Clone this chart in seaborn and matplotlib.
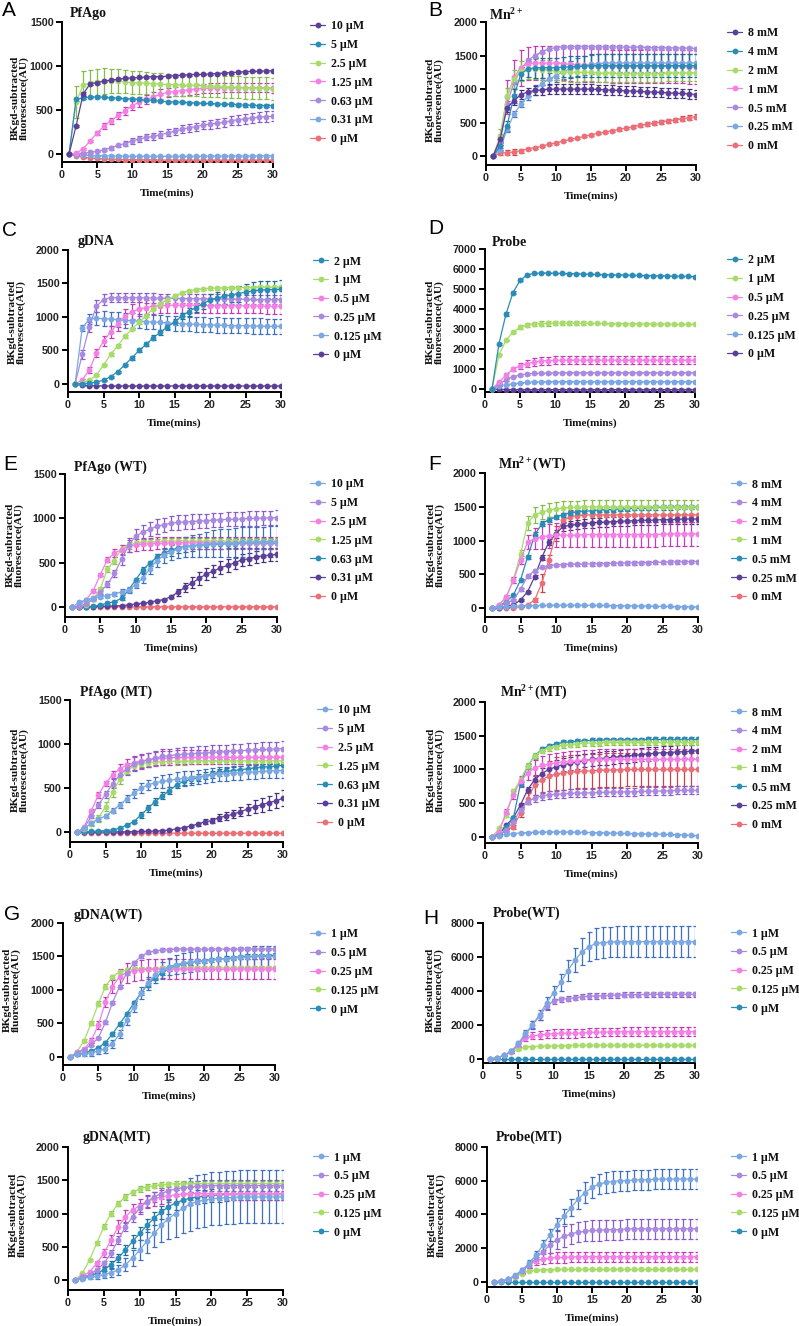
import numpy as np
import pandas as pd
import seaborn as sns
import matplotlib.pyplot as plt
from matplotlib.lines import Line2D

W, H = 799, 1326
TIME = list(range(1, 31))

# colours used by the GraphPad style palette (line colour, error bar colour)
PURPLE = ('#5b3f99', '#47307f')
TEAL = ('#2b8cb8', '#1d6d96')
GREEN = ('#a8dc6a', '#86bd4a')
PINK = ('#f47fe5', '#c23cb5')
LAVENDER = ('#a98ae0', '#8a5cc8')
LBLUE = ('#7ba7e3', '#3f6fbf')
RED = ('#ec6f78', '#cf3f4a')

# ---------------- A: PfAgo ----------------
A_LABELS = ['10 µM', '5 µM', '2.5 µM', '1.25 µM', '0.63 µM', '0.31 µM', '0 µM']
A_10 = [0, 320, 680, 800, 810, 830, 840, 850, 860, 865, 870, 875, 880, 880, 885, 890, 895, 900, 905, 905, 910, 915, 920, 925, 930, 935, 940, 940, 945, 945]
A_10_ERR = [0, 15, 20, 15, 15, 12, 10, 10, 10, 10, 10, 10, 10, 10, 10, 10, 10, 10, 10, 10, 10, 10, 10, 10, 10, 10, 10, 10, 10, 10]
A_5 = [0, 620, 640, 645, 650, 645, 640, 635, 630, 625, 620, 615, 610, 600, 595, 590, 590, 585, 580, 575, 575, 570, 565, 565, 560, 555, 555, 550, 550, 550]
A_5_ERR = [0, 20, 15, 10, 10, 10, 10, 10, 10, 10, 10, 10, 10, 10, 10, 10, 10, 10, 10, 10, 10, 10, 10, 15, 15, 15, 15, 15, 15, 15]
A_2P5 = [0, 590, 780, 810, 820, 830, 830, 830, 820, 810, 810, 805, 800, 795, 790, 790, 785, 780, 780, 775, 770, 770, 765, 760, 760, 755, 755, 750, 745, 740]
A_2P5_ERR = [0, 180, 160, 150, 150, 150, 140, 140, 130, 130, 130, 125, 125, 125, 125, 125, 125, 125, 125, 125, 125, 125, 125, 125, 125, 125, 125, 125, 125, 125]
A_1P25 = [0, 10, 60, 150, 240, 320, 380, 440, 490, 550, 590, 620, 650, 680, 700, 710, 720, 730, 740, 745, 750, 750, 755, 755, 755, 755, 755, 755, 755, 750]
A_1P25_ERR = [0, 5, 10, 15, 25, 30, 35, 40, 45, 50, 55, 55, 55, 55, 55, 55, 55, 55, 55, 55, 55, 55, 55, 55, 55, 55, 55, 55, 55, 55]
A_0P63 = [0, 5, 10, 20, 30, 50, 70, 100, 120, 150, 170, 190, 200, 220, 240, 260, 280, 300, 310, 330, 340, 350, 360, 380, 390, 400, 410, 420, 425, 430]
A_0P63_ERR = [0, 5, 5, 10, 10, 15, 20, 20, 25, 30, 30, 35, 35, 40, 40, 40, 45, 45, 45, 50, 50, 50, 55, 55, 55, 55, 55, 60, 60, 60]
A_0P31 = [0, -5, -10, -15, -18, -20, -22, -23, -24, -25, -25, -25, -25, -25, -25, -25, -25, -25, -25, -24, -24, -24, -23, -23, -22, -22, -21, -21, -20, -20]
A_0P31_ERR = [0, 5, 6, 7, 8, 8, 8, 8, 8, 8, 8, 8, 8, 8, 8, 8, 8, 8, 8, 8, 8, 8, 8, 8, 8, 8, 8, 8, 8, 8]
A_0 = [0, -20, -35, -45, -50, -55, -58, -60, -62, -63, -65, -65, -66, -67, -68, -68, -69, -70, -70, -70, -70, -70, -70, -70, -70, -70, -70, -70, -70, -70]
A_0_ERR = [0, 4, 5, 5, 5, 5, 5, 5, 5, 5, 5, 5, 5, 5, 5, 5, 5, 5, 5, 5, 5, 5, 5, 5, 5, 5, 5, 5, 5, 5]

# ---------------- B: Mn2+ ----------------
B_LABELS = ['8 mM', '4 mM', '2 mM', '1 mM', '0.5 mM', '0.25 mM', '0 mM']
B_8 = [0, 250, 720, 830, 920, 960, 980, 990, 1000, 1000, 1000, 1000, 1000, 1000, 1000, 995, 990, 985, 980, 975, 970, 965, 960, 955, 950, 945, 940, 935, 930, 920]
B_8_ERR = [0, 40, 60, 60, 60, 60, 70, 70, 70, 70, 70, 70, 70, 70, 70, 70, 70, 70, 70, 70, 70, 70, 70, 70, 70, 70, 70, 70, 70, 70]
B_4 = [0, 150, 450, 900, 1230, 1300, 1320, 1320, 1320, 1320, 1330, 1330, 1340, 1340, 1350, 1350, 1350, 1350, 1350, 1350, 1350, 1350, 1350, 1350, 1350, 1350, 1350, 1350, 1350, 1350]
B_4_ERR = [0, 50, 80, 100, 100, 120, 150, 150, 150, 150, 150, 160, 160, 160, 170, 170, 170, 170, 170, 170, 170, 170, 170, 170, 170, 170, 170, 170, 170, 170]
B_2 = [0, 300, 900, 1150, 1270, 1300, 1300, 1290, 1280, 1270, 1260, 1250, 1250, 1250, 1250, 1240, 1240, 1240, 1230, 1230, 1230, 1230, 1230, 1230, 1230, 1240, 1240, 1240, 1240, 1240]
B_2_ERR = [0, 100, 120, 140, 150, 150, 150, 150, 150, 140, 140, 140, 140, 130, 130, 130, 130, 130, 130, 130, 130, 130, 120, 120, 120, 120, 120, 120, 120, 120]
B_1 = [0, 250, 880, 1180, 1320, 1380, 1390, 1390, 1390, 1390, 1380, 1370, 1360, 1360, 1350, 1350, 1350, 1340, 1340, 1340, 1340, 1340, 1340, 1340, 1340, 1340, 1340, 1340, 1330, 1330]
B_1_ERR = [0, 80, 250, 250, 270, 250, 250, 250, 250, 250, 250, 250, 250, 250, 250, 250, 250, 250, 250, 250, 250, 250, 250, 250, 250, 250, 250, 250, 250, 250]
B_0P5 = [0, 200, 780, 1100, 1300, 1430, 1500, 1560, 1600, 1620, 1630, 1630, 1635, 1635, 1635, 1630, 1630, 1630, 1630, 1625, 1625, 1625, 1620, 1620, 1620, 1615, 1615, 1610, 1610, 1605]
B_0P5_ERR = [0, 30, 40, 30, 30, 25, 20, 20, 20, 20, 20, 20, 20, 20, 20, 20, 20, 20, 20, 20, 20, 20, 20, 20, 20, 20, 20, 20, 20, 20]
B_0P25 = [0, 100, 400, 630, 780, 900, 990, 1080, 1150, 1200, 1260, 1300, 1330, 1350, 1370, 1380, 1390, 1390, 1390, 1390, 1390, 1390, 1390, 1390, 1390, 1390, 1390, 1390, 1390, 1390]
B_0P25_ERR = [0, 30, 40, 50, 50, 60, 70, 80, 90, 100, 110, 120, 130, 140, 140, 140, 140, 140, 140, 140, 140, 140, 140, 140, 140, 140, 140, 140, 140, 140]
B_0 = [0, 45, 55, 65, 85, 110, 130, 150, 180, 200, 225, 250, 270, 295, 320, 340, 360, 380, 400, 420, 440, 460, 475, 490, 510, 525, 540, 560, 575, 590]
B_0_ERR = [0, 30, 40, 40, 30, 20, 15, 15, 15, 15, 15, 15, 15, 15, 15, 15, 15, 15, 20, 20, 20, 25, 30, 30, 30, 30, 35, 35, 40, 40]

# ---------------- C: gDNA ----------------
C_LABELS = ['2 µM', '1 µM', '0.5 µM', '0.25 µM', '0.125 µM', '0 µM']
C_2 = [0, 5, 10, 30, 55, 110, 185, 285, 390, 500, 590, 690, 770, 855, 920, 1015, 1080, 1140, 1200, 1250, 1280, 1310, 1330, 1350, 1370, 1390, 1400, 1410, 1410, 1415]
C_2_ERR = [0, 5, 5, 10, 10, 15, 15, 20, 25, 30, 30, 35, 40, 40, 45, 50, 60, 70, 80, 90, 100, 110, 110, 120, 120, 130, 130, 130, 130, 130]
C_1 = [0, 10, 55, 130, 285, 440, 570, 710, 820, 920, 1020, 1120, 1200, 1260, 1310, 1360, 1390, 1410, 1420, 1430, 1430, 1435, 1440, 1440, 1440, 1440, 1445, 1445, 1445, 1445]
C_1_ERR = [0, 5, 10, 15, 20, 20, 20, 20, 20, 20, 20, 20, 20, 20, 20, 20, 20, 20, 20, 20, 20, 20, 20, 20, 20, 20, 20, 20, 20, 20]
C_0P5 = [0, 60, 210, 460, 640, 780, 890, 1010, 1080, 1120, 1140, 1160, 1170, 1175, 1175, 1175, 1175, 1175, 1175, 1170, 1170, 1170, 1170, 1170, 1165, 1165, 1165, 1160, 1160, 1160]
C_0P5_ERR = [0, 15, 40, 60, 80, 90, 100, 110, 110, 110, 110, 110, 110, 110, 110, 110, 110, 110, 110, 110, 110, 110, 110, 110, 110, 110, 110, 110, 110, 110]
C_0P25 = [0, 440, 850, 1160, 1260, 1290, 1290, 1290, 1290, 1290, 1285, 1285, 1280, 1280, 1280, 1275, 1275, 1275, 1270, 1270, 1270, 1270, 1265, 1265, 1265, 1265, 1260, 1260, 1260, 1260]
C_0P25_ERR = [0, 60, 80, 90, 80, 70, 70, 70, 70, 70, 70, 70, 70, 70, 70, 70, 70, 70, 70, 70, 70, 70, 70, 70, 70, 70, 70, 70, 70, 70]
C_0P125 = [0, 835, 970, 980, 975, 970, 960, 950, 945, 940, 930, 925, 920, 910, 905, 900, 895, 890, 885, 880, 880, 875, 870, 870, 870, 865, 865, 860, 860, 860]
C_0P125_ERR = [0, 40, 80, 100, 110, 110, 110, 110, 110, 110, 110, 110, 110, 110, 110, 110, 110, 110, 110, 110, 115, 115, 115, 115, 115, 115, 115, 115, 115, 115]
C_0 = [0, -20, -25, -28, -30, -30, -30, -30, -30, -30, -30, -30, -30, -30, -30, -30, -30, -30, -30, -30, -30, -30, -30, -30, -30, -30, -30, -30, -30, -30]
C_0_ERR = [0, 5, 5, 5, 5, 5, 5, 5, 5, 5, 5, 5, 5, 5, 5, 5, 5, 5, 5, 5, 5, 5, 5, 5, 5, 5, 5, 5, 5, 5]

# ---------------- D: Probe ----------------
D_LABELS = ['2 µM', '1 µM', '0.5 µM', '0.25 µM', '0.125 µM', '0 µM']
D_2 = [0, 2270, 3750, 4820, 5430, 5700, 5780, 5800, 5800, 5790, 5780, 5770, 5760, 5750, 5740, 5730, 5720, 5710, 5700, 5700, 5690, 5680, 5670, 5660, 5660, 5650, 5640, 5640, 5630, 5620]
D_2_ERR = [0, 50, 120, 60, 50, 40, 30, 20, 20, 20, 20, 20, 20, 20, 20, 20, 20, 20, 20, 20, 20, 20, 20, 20, 20, 20, 20, 20, 20, 20]
D_1 = [0, 1720, 2430, 2850, 3080, 3180, 3250, 3270, 3280, 3290, 3290, 3290, 3290, 3290, 3280, 3280, 3280, 3270, 3270, 3270, 3260, 3260, 3260, 3250, 3250, 3250, 3240, 3240, 3240, 3230]
D_1_ERR = [0, 30, 40, 40, 100, 100, 110, 110, 110, 110, 110, 110, 110, 110, 30, 30, 30, 30, 30, 30, 30, 30, 30, 30, 30, 30, 30, 30, 30, 30]
D_0P5 = [0, 350, 700, 1000, 1150, 1270, 1350, 1400, 1420, 1430, 1440, 1440, 1440, 1440, 1440, 1440, 1440, 1440, 1440, 1440, 1440, 1440, 1440, 1440, 1440, 1440, 1440, 1440, 1440, 1440]
D_0P5_ERR = [0, 50, 80, 120, 150, 180, 200, 200, 200, 200, 200, 200, 200, 200, 200, 200, 200, 200, 200, 200, 200, 200, 200, 200, 200, 200, 200, 200, 200, 200]
D_0P25 = [0, 250, 450, 620, 700, 750, 780, 790, 800, 810, 810, 810, 810, 810, 810, 810, 810, 810, 810, 810, 810, 810, 810, 810, 810, 810, 810, 810, 810, 810]
D_0P25_ERR = [0, 20, 30, 30, 30, 30, 30, 30, 30, 30, 30, 30, 30, 30, 30, 30, 30, 30, 30, 30, 30, 30, 30, 30, 30, 30, 30, 30, 30, 30]
D_0P125 = [0, 150, 220, 260, 300, 330, 350, 360, 365, 370, 370, 370, 370, 370, 370, 370, 370, 370, 370, 370, 370, 370, 370, 370, 370, 370, 370, 370, 370, 370]
D_0P125_ERR = [0, 15, 20, 20, 20, 20, 20, 20, 20, 20, 20, 20, 20, 20, 20, 20, 20, 20, 20, 20, 20, 20, 20, 20, 20, 20, 20, 20, 20, 20]
D_0 = [0, -20, -25, -30, -30, -30, -30, -30, -30, -30, -30, -30, -30, -30, -30, -30, -30, -30, -30, -30, -30, -30, -30, -30, -30, -30, -30, -30, -30, -30]
D_0_ERR = [0, 10, 10, 10, 10, 10, 10, 10, 10, 10, 10, 10, 10, 10, 10, 10, 10, 10, 10, 10, 10, 10, 10, 10, 10, 10, 10, 10, 10, 10]

# ---------------- E: PfAgo (WT) ----------------
E_LABELS = ['10 µM', '5 µM', '2.5 µM', '1.25 µM', '0.63 µM', '0.31 µM', '0 µM']
E_10 = [0, 56, 83, 105, 120, 131, 150, 170, 195, 255, 327, 432, 526, 583, 620, 658, 680, 690, 700, 710, 715, 720, 720, 725, 730, 730, 735, 735, 740, 740]
E_10_ERR = [0, 10, 15, 15, 15, 20, 25, 30, 35, 40, 50, 60, 70, 80, 90, 100, 110, 120, 130, 140, 150, 160, 160, 170, 170, 170, 170, 170, 170, 170]
E_5 = [0, 10, 40, 90, 170, 260, 380, 540, 700, 800, 845, 880, 910, 930, 945, 955, 960, 965, 970, 975, 980, 985, 990, 990, 995, 1000, 1000, 1005, 1005, 1010]
E_5_ERR = [0, 5, 10, 15, 20, 30, 40, 60, 80, 80, 80, 80, 80, 80, 80, 80, 80, 80, 80, 80, 80, 80, 80, 80, 80, 80, 80, 80, 80, 80]
E_2P5 = [0, 19, 83, 188, 368, 537, 610, 646, 688, 700, 710, 715, 720, 720, 725, 725, 725, 725, 725, 725, 725, 725, 725, 725, 725, 725, 725, 725, 725, 725]
E_2P5_ERR = [0, 5, 10, 15, 20, 30, 50, 60, 70, 70, 70, 70, 70, 70, 70, 70, 70, 70, 70, 70, 70, 70, 70, 70, 70, 70, 70, 70, 70, 70]
E_1P25 = [0, 10, 26, 94, 207, 432, 526, 658, 700, 720, 730, 735, 740, 745, 745, 745, 745, 745, 745, 745, 745, 745, 745, 745, 745, 745, 745, 745, 745, 745]
E_1P25_ERR = [0, 5, 10, 15, 20, 30, 40, 40, 40, 30, 30, 30, 30, 30, 30, 30, 30, 30, 30, 30, 30, 30, 30, 30, 30, 30, 30, 30, 30, 30]
E_0P63 = [0, 0, 5, 11, 26, 45, 64, 100, 195, 308, 420, 496, 564, 610, 640, 670, 684, 690, 700, 705, 710, 710, 715, 715, 720, 720, 720, 720, 720, 720]
E_0P63_ERR = [0, 5, 5, 5, 5, 10, 10, 15, 20, 25, 30, 30, 40, 50, 60, 60, 60, 60, 50, 50, 50, 50, 50, 50, 50, 50, 50, 50, 50, 50]
E_0P31 = [0, 0, 5, 8, 10, 12, 15, 18, 26, 38, 45, 56, 75, 86, 120, 170, 225, 275, 325, 375, 405, 445, 470, 500, 534, 545, 564, 580, 586, 594]
E_0P31_ERR = [0, 2, 2, 2, 2, 2, 2, 2, 3, 3, 5, 5, 5, 10, 20, 40, 50, 60, 70, 70, 70, 70, 70, 70, 70, 70, 70, 70, 70, 70]
E_0 = [0, 5, 5, 5, 5, 5, 5, 5, 5, 5, 5, 5, 5, 5, 5, 5, 5, 5, 5, 5, 5, 5, 5, 5, 5, 5, 5, 5, 5, 5]
E_0_ERR = [0, 3, 3, 3, 3, 3, 3, 3, 3, 3, 3, 3, 3, 3, 3, 3, 3, 3, 3, 3, 3, 3, 3, 3, 3, 3, 3, 3, 3, 3]

# ---------------- E: PfAgo (MT) ----------------
EM_10 = [0, 45, 102, 148, 186, 246, 311, 379, 443, 500, 538, 564, 576, 590, 600, 610, 620, 630, 640, 650, 660, 665, 670, 675, 680, 685, 690, 695, 700, 700]
EM_10_ERR = [0, 10, 20, 25, 25, 30, 35, 40, 50, 55, 60, 65, 70, 75, 80, 80, 80, 80, 80, 80, 80, 80, 80, 80, 80, 80, 80, 80, 80, 80]
EM_5 = [0, 50, 180, 310, 430, 550, 650, 720, 770, 800, 820, 840, 860, 870, 880, 885, 890, 895, 900, 905, 910, 915, 920, 925, 930, 935, 940, 940, 945, 950]
EM_5_ERR = [0, 10, 20, 30, 40, 50, 60, 70, 80, 80, 80, 80, 80, 80, 80, 80, 80, 80, 80, 80, 80, 80, 80, 80, 80, 80, 80, 80, 80, 80]
EM_2P5 = [0, 64, 246, 424, 556, 650, 720, 760, 790, 810, 820, 830, 840, 845, 850, 850, 850, 850, 850, 850, 850, 850, 850, 850, 850, 850, 850, 850, 850, 850]
EM_2P5_ERR = [0, 10, 20, 30, 30, 40, 60, 70, 80, 80, 80, 80, 80, 80, 80, 80, 80, 80, 80, 80, 80, 80, 80, 80, 80, 80, 80, 80, 80, 80]
EM_1P25 = [0, 40, 100, 160, 290, 455, 600, 700, 750, 780, 790, 800, 800, 805, 805, 805, 810, 810, 810, 810, 810, 810, 810, 810, 810, 810, 810, 810, 810, 810]
EM_1P25_ERR = [0, 10, 30, 40, 50, 60, 50, 40, 40, 40, 40, 40, 40, 40, 40, 40, 40, 40, 40, 40, 40, 40, 40, 40, 40, 40, 40, 40, 40, 40]
EM_0P63 = [0, 5, 10, 15, 20, 30, 45, 83, 121, 197, 273, 348, 413, 470, 538, 576, 600, 620, 640, 660, 680, 690, 700, 710, 720, 730, 740, 745, 750, 760]
EM_0P63_ERR = [0, 2, 3, 5, 5, 5, 8, 10, 20, 30, 40, 40, 40, 40, 40, 40, 40, 40, 40, 40, 40, 40, 40, 40, 40, 40, 40, 40, 40, 40]
EM_0P31 = [0, 0, 2, 3, 4, 5, 5, 6, 8, 10, 12, 15, 18, 26, 38, 53, 72, 91, 121, 132, 167, 185, 205, 235, 261, 292, 311, 337, 356, 386]
EM_0P31_ERR = [0, 1, 1, 1, 1, 1, 1, 1, 2, 2, 3, 3, 5, 5, 8, 10, 10, 15, 25, 30, 35, 40, 45, 50, 60, 70, 80, 80, 85, 90]
EM_0 = [0, -5, -8, -10, -10, -10, -10, -10, -10, -10, -10, -10, -10, -10, -10, -10, -10, -10, -10, -10, -10, -10, -10, -10, -10, -10, -10, -10, -10, -10]
EM_0_ERR = [0, 3, 3, 3, 3, 3, 3, 3, 3, 3, 3, 3, 3, 3, 3, 3, 3, 3, 3, 3, 3, 3, 3, 3, 3, 3, 3, 3, 3, 3]

# ---------------- F: Mn2+ (WT) ----------------
F_LABELS = ['8 mM', '4 mM', '2 mM', '1 mM', '0.5 mM', '0.25 mM', '0 mM']
F_8 = [0, 15, 25, 30, 35, 38, 40, 42, 45, 45, 45, 45, 45, 45, 45, 43, 42, 40, 38, 36, 35, 33, 32, 30, 28, 26, 25, 22, 20, 18]
F_8_ERR = [0, 5, 5, 5, 5, 5, 5, 5, 5, 5, 5, 5, 5, 5, 5, 5, 5, 5, 5, 5, 5, 5, 5, 5, 5, 5, 5, 5, 5, 5]
F_4 = [0, 20, 73, 122, 280, 475, 554, 613, 627, 640, 645, 650, 650, 655, 655, 660, 660, 665, 665, 670, 670, 675, 675, 680, 680, 685, 685, 690, 690, 690]
F_4_ERR = [0, 5, 10, 15, 20, 25, 20, 15, 15, 20, 20, 20, 25, 25, 25, 25, 25, 25, 25, 25, 25, 25, 25, 25, 25, 25, 25, 25, 25, 25]
F_2 = [0, 50, 172, 416, 710, 980, 1030, 1060, 1070, 1080, 1080, 1080, 1080, 1090, 1090, 1090, 1090, 1090, 1090, 1090, 1090, 1090, 1090, 1090, 1095, 1100, 1100, 1100, 1100, 1100]
F_2_ERR = [0, 10, 20, 40, 60, 100, 150, 180, 180, 180, 180, 180, 180, 180, 180, 180, 180, 180, 180, 180, 180, 180, 180, 180, 180, 180, 180, 180, 180, 180]
F_1 = [0, 50, 170, 420, 800, 1260, 1380, 1420, 1450, 1470, 1480, 1490, 1490, 1500, 1500, 1500, 1500, 1500, 1500, 1500, 1500, 1500, 1500, 1500, 1500, 1500, 1500, 1500, 1500, 1500]
F_1_ERR = [0, 10, 20, 40, 60, 100, 120, 100, 100, 100, 100, 100, 100, 100, 100, 100, 100, 100, 100, 100, 100, 100, 100, 100, 100, 100, 100, 100, 100, 100]
F_0P5 = [0, 30, 98, 196, 416, 760, 1080, 1250, 1310, 1350, 1385, 1410, 1425, 1435, 1440, 1450, 1460, 1460, 1470, 1470, 1480, 1480, 1480, 1490, 1490, 1490, 1500, 1500, 1500, 1500]
F_0P5_ERR = [0, 5, 10, 15, 20, 30, 40, 40, 40, 30, 30, 30, 30, 30, 30, 30, 30, 30, 30, 30, 30, 30, 30, 30, 30, 30, 30, 30, 30, 30]
F_0P25 = [0, 10, 25, 50, 122, 245, 466, 750, 980, 1100, 1210, 1225, 1240, 1250, 1260, 1270, 1275, 1280, 1285, 1290, 1295, 1300, 1300, 1305, 1310, 1310, 1315, 1320, 1320, 1320]
F_0P25_ERR = [0, 3, 5, 10, 10, 15, 20, 40, 50, 60, 70, 70, 70, 70, 70, 70, 70, 70, 70, 70, 70, 70, 70, 70, 70, 70, 70, 70, 70, 70]
F_0 = [0, 0, 5, 10, 20, 50, 122, 370, 720, 1100, 1300, 1350, 1370, 1380, 1380, 1380, 1380, 1380, 1380, 1380, 1380, 1380, 1380, 1380, 1380, 1380, 1380, 1380, 1380, 1380]
F_0_ERR = [0, 2, 2, 3, 5, 10, 30, 130, 60, 110, 110, 110, 110, 110, 110, 110, 110, 110, 110, 110, 110, 110, 110, 110, 110, 110, 110, 110, 110, 110]

# ---------------- F: Mn2+ (MT) ----------------
FM_8 = [0, 20, 40, 50, 60, 65, 70, 72, 75, 75, 75, 72, 70, 68, 65, 62, 60, 58, 55, 52, 50, 48, 45, 42, 40, 38, 35, 30, 25, 20]
FM_8_ERR = [0, 5, 5, 5, 5, 5, 5, 5, 5, 5, 5, 5, 5, 5, 5, 5, 5, 5, 5, 5, 5, 5, 5, 5, 5, 5, 5, 5, 5, 5]
FM_4 = [0, 30, 100, 225, 400, 525, 575, 610, 625, 630, 640, 645, 650, 650, 655, 660, 660, 665, 665, 670, 670, 675, 675, 680, 680, 685, 690, 690, 690, 690]
FM_4_ERR = [0, 10, 15, 20, 30, 40, 50, 60, 60, 60, 60, 60, 60, 60, 60, 60, 60, 60, 60, 60, 60, 60, 60, 60, 60, 60, 60, 60, 60, 60]
FM_2 = [0, 80, 375, 625, 825, 950, 1020, 1060, 1080, 1100, 1110, 1120, 1130, 1140, 1140, 1150, 1150, 1150, 1150, 1150, 1150, 1150, 1150, 1150, 1150, 1150, 1150, 1150, 1150, 1150]
FM_2_ERR = [0, 20, 40, 60, 80, 100, 120, 140, 150, 150, 150, 150, 150, 150, 150, 150, 150, 150, 150, 150, 150, 150, 150, 150, 150, 150, 150, 150, 150, 150]
FM_1 = [0, 130, 325, 675, 850, 1050, 1200, 1280, 1320, 1340, 1360, 1370, 1380, 1390, 1390, 1390, 1400, 1400, 1400, 1400, 1400, 1400, 1400, 1400, 1400, 1400, 1400, 1400, 1400, 1400]
FM_1_ERR = [0, 20, 30, 40, 40, 40, 40, 40, 40, 40, 40, 40, 40, 40, 40, 40, 40, 40, 40, 40, 40, 40, 40, 40, 40, 40, 40, 40, 40, 40]
FM_0P5 = [0, 60, 140, 280, 790, 1050, 1200, 1300, 1350, 1380, 1400, 1410, 1420, 1425, 1430, 1435, 1440, 1440, 1440, 1440, 1440, 1440, 1445, 1445, 1445, 1445, 1445, 1445, 1445, 1445]
FM_0P5_ERR = [0, 10, 20, 30, 30, 30, 30, 30, 30, 30, 30, 30, 30, 30, 30, 30, 30, 30, 30, 30, 30, 30, 30, 30, 30, 30, 30, 30, 30, 30]
FM_0P25 = [0, 50, 175, 285, 475, 700, 850, 940, 1000, 1040, 1070, 1090, 1110, 1130, 1150, 1160, 1170, 1180, 1190, 1200, 1210, 1220, 1230, 1240, 1250, 1250, 1260, 1265, 1270, 1280]
FM_0P25_ERR = [0, 10, 20, 30, 30, 40, 60, 80, 100, 100, 100, 100, 100, 100, 100, 100, 100, 100, 100, 100, 100, 100, 100, 100, 100, 100, 100, 100, 100, 100]
FM_0 = [0, 30, 100, 150, 350, 565, 775, 850, 900, 930, 950, 960, 970, 975, 980, 985, 990, 990, 995, 1000, 1000, 1000, 1000, 1000, 1000, 1000, 1000, 1000, 1000, 1000]
FM_0_ERR = [0, 10, 20, 30, 60, 80, 150, 200, 220, 250, 250, 250, 250, 250, 250, 250, 250, 250, 250, 250, 250, 250, 250, 250, 250, 250, 250, 250, 250, 250]

# ---------------- G: gDNA (WT) ----------------
G_LABELS = ['1 µM', '0.5 µM', '0.25 µM', '0.125 µM', '0 µM']
G_1 = [0, 40, 50, 60, 90, 120, 200, 340, 550, 750, 950, 1100, 1220, 1300, 1350, 1380, 1400, 1420, 1430, 1440, 1450, 1460, 1470, 1480, 1490, 1490, 1500, 1500, 1500, 1500]
G_1_ERR = [0, 20, 30, 40, 50, 60, 60, 60, 70, 80, 90, 100, 110, 120, 130, 140, 150, 150, 150, 150, 150, 150, 150, 150, 150, 150, 150, 150, 150, 150]
G_0P5 = [0, 60, 110, 185, 285, 515, 810, 1050, 1250, 1400, 1500, 1560, 1580, 1600, 1600, 1610, 1610, 1610, 1610, 1610, 1610, 1610, 1610, 1610, 1610, 1610, 1610, 1610, 1610, 1610]
G_0P5_ERR = [0, 10, 15, 20, 20, 20, 20, 20, 20, 20, 20, 20, 20, 20, 20, 20, 20, 20, 20, 20, 20, 20, 20, 20, 20, 20, 20, 20, 20, 20]
G_0P25 = [0, 70, 120, 245, 475, 820, 1050, 1200, 1260, 1290, 1300, 1310, 1310, 1310, 1310, 1310, 1310, 1310, 1310, 1310, 1310, 1310, 1310, 1310, 1310, 1310, 1310, 1310, 1310, 1310]
G_0P25_ERR = [0, 10, 20, 40, 60, 80, 100, 120, 150, 150, 150, 150, 150, 150, 150, 150, 150, 150, 150, 150, 150, 150, 150, 150, 150, 150, 150, 150, 150, 150]
G_0P125 = [0, 80, 245, 510, 795, 1050, 1200, 1270, 1300, 1310, 1320, 1320, 1320, 1325, 1325, 1325, 1330, 1330, 1330, 1330, 1330, 1330, 1330, 1330, 1330, 1330, 1330, 1330, 1330, 1330]
G_0P125_ERR = [0, 10, 20, 30, 40, 40, 30, 30, 30, 30, 30, 30, 30, 30, 30, 30, 30, 30, 30, 30, 30, 30, 30, 30, 30, 30, 30, 30, 30, 30]
G_0 = [0, 40, 60, 90, 140, 215, 345, 490, 640, 800, 950, 1080, 1180, 1260, 1320, 1360, 1390, 1410, 1430, 1440, 1450, 1460, 1470, 1480, 1490, 1500, 1500, 1510, 1510, 1520]
G_0_ERR = [0, 10, 15, 20, 20, 20, 25, 30, 30, 30, 30, 30, 30, 30, 30, 30, 30, 30, 30, 30, 30, 30, 30, 30, 30, 30, 30, 30, 30, 30]

# ---------------- G: gDNA (MT) ----------------
GM_1 = [0, 20, 40, 60, 80, 110, 150, 230, 330, 450, 580, 700, 820, 920, 1000, 1080, 1140, 1180, 1200, 1220, 1230, 1240, 1240, 1250, 1250, 1250, 1250, 1250, 1250, 1250]
GM_1_ERR = [0, 20, 30, 40, 50, 60, 80, 100, 120, 150, 180, 200, 250, 300, 350, 380, 400, 400, 400, 400, 400, 400, 400, 400, 400, 400, 400, 400, 400, 400]
GM_0P5 = [0, 40, 80, 150, 250, 400, 600, 800, 950, 1080, 1180, 1250, 1300, 1340, 1370, 1390, 1400, 1410, 1420, 1420, 1420, 1420, 1420, 1420, 1420, 1420, 1420, 1420, 1420, 1420]
GM_0P5_ERR = [0, 10, 20, 30, 40, 50, 60, 70, 80, 80, 80, 80, 80, 80, 80, 80, 80, 80, 80, 80, 80, 80, 80, 80, 80, 80, 80, 80, 80, 80]
GM_0P25 = [0, 60, 120, 250, 400, 600, 800, 950, 1050, 1120, 1180, 1220, 1250, 1270, 1280, 1290, 1300, 1300, 1300, 1300, 1300, 1300, 1300, 1300, 1300, 1300, 1300, 1300, 1300, 1300]
GM_0P25_ERR = [0, 10, 20, 40, 60, 80, 100, 100, 100, 100, 100, 100, 100, 100, 100, 100, 100, 100, 100, 100, 100, 100, 100, 100, 100, 100, 100, 100, 100, 100]
GM_0P125 = [0, 100, 300, 550, 800, 1000, 1150, 1250, 1320, 1370, 1400, 1420, 1430, 1440, 1450, 1450, 1450, 1450, 1450, 1450, 1450, 1450, 1450, 1450, 1450, 1450, 1450, 1450, 1450, 1450]
GM_0P125_ERR = [0, 10, 20, 30, 40, 40, 40, 40, 40, 40, 40, 40, 40, 40, 40, 40, 40, 40, 40, 40, 40, 40, 40, 40, 40, 40, 40, 40, 40, 40]
GM_0 = [0, 30, 60, 100, 150, 230, 330, 450, 580, 700, 820, 930, 1020, 1100, 1160, 1200, 1230, 1250, 1260, 1270, 1280, 1290, 1300, 1300, 1300, 1300, 1300, 1300, 1300, 1300]
GM_0_ERR = [0, 10, 20, 30, 40, 50, 60, 80, 100, 100, 100, 100, 100, 100, 100, 100, 100, 100, 100, 100, 100, 100, 100, 100, 100, 100, 100, 100, 100, 100]

# ---------------- H: Probe (WT) ----------------
H_LABELS = ['1 µM', '0.5 µM', '0.25 µM', '0.125 µM', '0 µM']
H_1 = [0, 50, 200, 450, 900, 1500, 2000, 2600, 3300, 3900, 4500, 5200, 5800, 6300, 6600, 6800, 6850, 6880, 6900, 6900, 6900, 6900, 6900, 6900, 6900, 6900, 6900, 6900, 6900, 6900]
H_1_ERR = [0, 20, 50, 100, 150, 200, 250, 300, 350, 400, 500, 600, 700, 800, 850, 900, 900, 900, 900, 900, 900, 900, 900, 900, 900, 900, 900, 900, 900, 900]
H_0P5 = [0, 50, 200, 450, 850, 1400, 2000, 2500, 3100, 3400, 3500, 3550, 3600, 3650, 3700, 3700, 3720, 3740, 3750, 3760, 3780, 3780, 3790, 3800, 3800, 3800, 3800, 3800, 3800, 3800]
H_0P5_ERR = [0, 20, 50, 100, 150, 200, 200, 200, 200, 150, 150, 150, 150, 150, 150, 150, 150, 150, 150, 150, 150, 150, 150, 150, 150, 150, 150, 150, 150, 150]
H_0P25 = [0, 50, 200, 400, 800, 1200, 1350, 1400, 1450, 1480, 1500, 1500, 1500, 1520, 1550, 1560, 1570, 1580, 1590, 1600, 1600, 1600, 1600, 1600, 1600, 1600, 1600, 1600, 1600, 1600]
H_0P25_ERR = [0, 20, 50, 80, 120, 180, 200, 220, 250, 250, 250, 250, 250, 250, 250, 250, 250, 250, 250, 250, 250, 250, 250, 250, 250, 250, 250, 250, 250, 250]
H_0P125 = [0, 50, 200, 400, 550, 700, 720, 740, 750, 760, 770, 780, 790, 800, 800, 800, 800, 800, 800, 800, 800, 800, 800, 800, 800, 800, 800, 800, 800, 800]
H_0P125_ERR = [0, 10, 20, 30, 30, 30, 30, 30, 30, 30, 30, 30, 30, 30, 30, 30, 30, 30, 30, 30, 30, 30, 30, 30, 30, 30, 30, 30, 30, 30]
H_0 = [0, 0, 0, 0, 0, 0, 0, 0, 0, 0, 0, 0, 0, 0, 0, 0, 0, 0, 0, 0, 0, 0, 0, 0, 0, 0, 0, 0, 0, 0]
H_0_ERR = [0, 10, 10, 10, 10, 10, 10, 10, 10, 10, 10, 10, 10, 10, 10, 10, 10, 10, 10, 10, 10, 10, 10, 10, 10, 10, 10, 10, 10, 10]

# ---------------- H: Probe (MT) ----------------
HM_1 = [0, 50, 150, 400, 700, 1100, 1600, 2200, 2800, 3400, 3900, 4400, 4900, 5300, 5600, 5800, 5900, 5950, 6000, 6000, 6050, 6050, 6050, 6100, 6100, 6100, 6100, 6100, 6100, 6100]
HM_1_ERR = [0, 20, 50, 100, 150, 200, 250, 300, 350, 400, 450, 500, 550, 600, 600, 600, 600, 600, 600, 600, 600, 600, 600, 600, 600, 600, 600, 600, 600, 600]
HM_0P5 = [0, 50, 150, 350, 650, 1000, 1400, 1800, 2200, 2500, 2700, 2850, 2950, 3000, 3050, 3050, 3100, 3100, 3100, 3150, 3150, 3150, 3150, 3150, 3150, 3150, 3150, 3150, 3150, 3150]
HM_0P5_ERR = [0, 20, 50, 100, 150, 200, 300, 400, 500, 550, 600, 600, 600, 600, 600, 600, 600, 600, 600, 600, 600, 600, 600, 600, 600, 600, 600, 600, 600, 600]
HM_0P25 = [0, 50, 150, 350, 650, 1000, 1250, 1350, 1400, 1450, 1450, 1480, 1500, 1500, 1500, 1500, 1500, 1500, 1500, 1500, 1500, 1500, 1500, 1500, 1500, 1500, 1500, 1500, 1500, 1500]
HM_0P25_ERR = [0, 20, 50, 80, 120, 180, 250, 300, 300, 300, 300, 300, 300, 300, 300, 300, 300, 300, 300, 300, 300, 300, 300, 300, 300, 300, 300, 300, 300, 300]
HM_0P125 = [0, 50, 150, 300, 500, 650, 700, 720, 730, 740, 750, 750, 750, 750, 750, 750, 750, 750, 750, 750, 750, 750, 750, 750, 750, 750, 750, 750, 750, 750]
HM_0P125_ERR = [0, 10, 20, 30, 30, 30, 30, 30, 30, 30, 30, 30, 30, 30, 30, 30, 30, 30, 30, 30, 30, 30, 30, 30, 30, 30, 30, 30, 30, 30]
HM_0 = [0, 0, 0, 0, 0, 0, 0, 0, 0, 0, 0, 0, 0, 0, 0, 0, 0, 0, 0, 0, 0, 0, 0, 0, 0, 0, 0, 0, 0, 0]
HM_0_ERR = [0, 10, 10, 10, 10, 10, 10, 10, 10, 10, 10, 10, 10, 10, 10, 10, 10, 10, 10, 10, 10, 10, 10, 10, 10, 10, 10, 10, 10, 10]

YLABEL = 'BKgd-subtracted\nfluorescence(AU)'

sns.set_theme(style='ticks')
plt.rcParams['font.family'] = ['Liberation Serif', 'DejaVu Serif']
plt.rcParams['mathtext.fontset'] = 'custom'
plt.rcParams['mathtext.rm'] = 'Liberation Serif:bold'
plt.rcParams['mathtext.it'] = 'Liberation Serif:bold'
plt.rcParams['mathtext.bf'] = 'Liberation Serif:bold'

# panel settings: axes box in pixels (left, right, y of ymax, y of ymin);
# legxy = (left of legend handle, centre y of the first legend row)
PANELS = [
    dict(box=(62, 273, 22, 162), ylim=(-90, 1500), yticks=[0, 500, 1000, 1500], title='PfAgo', txy=(70, 14),
         letter='A', lxy=(2, 11), ylxy=(20, 98), legxy=(310, 25), labels=A_LABELS,
         series=[(A_10, A_10_ERR, PURPLE), (A_5, A_5_ERR, TEAL), (A_2P5, A_2P5_ERR, GREEN), (A_1P25, A_1P25_ERR, PINK),
                 (A_0P63, A_0P63_ERR, LAVENDER), (A_0P31, A_0P31_ERR, LBLUE), (A_0, A_0_ERR, RED)]),
    dict(box=(486, 696, 22, 165), ylim=(-130, 2000), yticks=[0, 500, 1000, 1500, 2000], title=r'Mn$^{2+}$', txy=(489, 15),
         letter='B', lxy=(428, 10), ylxy=(435, 100), legxy=(727, 32), labels=B_LABELS,
         series=[(B_8, B_8_ERR, PURPLE), (B_4, B_4_ERR, TEAL), (B_2, B_2_ERR, GREEN), (B_1, B_1_ERR, PINK),
                 (B_0P5, B_0P5_ERR, LAVENDER), (B_0P25, B_0P25_ERR, LBLUE), (B_0, B_0_ERR, RED)]),
    dict(box=(68, 281, 250, 392), ylim=(-120, 2000), yticks=[0, 500, 1000, 1500, 2000], title='gDNA', txy=(78, 241),
         letter='C', lxy=(2, 230), ylxy=(17, 322), legxy=(313, 260), labels=C_LABELS,
         series=[(C_2, C_2_ERR, TEAL), (C_1, C_1_ERR, GREEN), (C_0P5, C_0P5_ERR, PINK), (C_0P25, C_0P25_ERR, LAVENDER),
                 (C_0P125, C_0P125_ERR, LBLUE), (C_0, C_0_ERR, PURPLE)]),
    dict(box=(485, 695, 249, 392), ylim=(-150, 7000), yticks=[0, 1000, 2000, 3000, 4000, 5000, 6000, 7000], title='Probe', txy=(492, 242),
         letter='D', lxy=(428, 229), ylxy=(435, 322), legxy=(727, 259), labels=D_LABELS,
         series=[(D_2, D_2_ERR, TEAL), (D_1, D_1_ERR, GREEN), (D_0P5, D_0P5_ERR, PINK), (D_0P25, D_0P25_ERR, LAVENDER),
                 (D_0P125, D_0P125_ERR, LBLUE), (D_0, D_0_ERR, PURPLE)]),
    dict(box=(65, 277, 474, 617), ylim=(-110, 1500), yticks=[0, 500, 1000, 1500], title='PfAgo (WT)', txy=(74, 467),
         letter='E', lxy=(3, 465), ylxy=(15, 545), legxy=(310, 483), labels=E_LABELS,
         series=[(E_10, E_10_ERR, LBLUE), (E_5, E_5_ERR, LAVENDER), (E_2P5, E_2P5_ERR, PINK), (E_1P25, E_1P25_ERR, GREEN),
                 (E_0P63, E_0P63_ERR, TEAL), (E_0P31, E_0P31_ERR, PURPLE), (E_0, E_0_ERR, RED)]),
    dict(box=(70, 283, 700, 842), ylim=(-110, 1500), yticks=[0, 500, 1000, 1500], title='PfAgo (MT)', txy=(80, 692),
         letter=None, lxy=None, ylxy=(20, 770), legxy=(317, 709), labels=E_LABELS,
         series=[(EM_10, EM_10_ERR, LBLUE), (EM_5, EM_5_ERR, LAVENDER), (EM_2P5, EM_2P5_ERR, PINK), (EM_1P25, EM_1P25_ERR, GREEN),
                 (EM_0P63, EM_0P63_ERR, TEAL), (EM_0P31, EM_0P31_ERR, PURPLE), (EM_0, EM_0_ERR, RED)]),
    dict(box=(485, 698, 473, 617), ylim=(-130, 2000), yticks=[0, 500, 1000, 1500, 2000], title=r'Mn$^{2+}$(WT)', txy=(498, 465),
         letter='F', lxy=(428, 465), ylxy=(436, 545), legxy=(731, 483), labels=F_LABELS,
         series=[(F_8, F_8_ERR, LBLUE), (F_4, F_4_ERR, LAVENDER), (F_2, F_2_ERR, PINK), (F_1, F_1_ERR, GREEN),
                 (F_0P5, F_0P5_ERR, TEAL), (F_0P25, F_0P25_ERR, PURPLE), (F_0, F_0_ERR, RED)]),
    dict(box=(485, 698, 702, 843), ylim=(-90, 2000), yticks=[0, 500, 1000, 1500, 2000], title=r'Mn$^{2+}$(MT)', txy=(500, 693),
         letter=None, lxy=None, ylxy=(436, 770), legxy=(731, 711), labels=F_LABELS,
         series=[(FM_8, FM_8_ERR, LBLUE), (FM_4, FM_4_ERR, LAVENDER), (FM_2, FM_2_ERR, PINK), (FM_1, FM_1_ERR, GREEN),
                 (FM_0P5, FM_0P5_ERR, TEAL), (FM_0P25, FM_0P25_ERR, PURPLE), (FM_0, FM_0_ERR, RED)]),
    dict(box=(63, 275, 923, 1065), ylim=(-120, 2000), yticks=[0, 500, 1000, 1500, 2000], title='gDNA(WT)', txy=(74, 915),
         letter='G', lxy=(4, 915), ylxy=(12, 990), legxy=(310, 933), labels=G_LABELS,
         series=[(G_1, G_1_ERR, LBLUE), (G_0P5, G_0P5_ERR, LAVENDER), (G_0P25, G_0P25_ERR, PINK), (G_0P125, G_0P125_ERR, GREEN),
                 (G_0, G_0_ERR, TEAL)]),
    dict(box=(68, 283, 1147, 1290), ylim=(-150, 2000), yticks=[0, 500, 1000, 1500, 2000], title='gDNA(MT)', txy=(83, 1137),
         letter=None, lxy=None, ylxy=(18, 1215), legxy=(313, 1156), labels=G_LABELS,
         series=[(GM_1, GM_1_ERR, LBLUE), (GM_0P5, GM_0P5_ERR, LAVENDER), (GM_0P25, GM_0P25_ERR, PINK), (GM_0P125, GM_0P125_ERR, GREEN),
                 (GM_0, GM_0_ERR, TEAL)]),
    dict(box=(483, 695, 923, 1063), ylim=(-250, 8000), yticks=[0, 2000, 4000, 6000, 8000], title='Probe(WT)', txy=(493, 913),
         letter='H', lxy=(423, 919), ylxy=(435, 990), legxy=(731, 932), labels=H_LABELS,
         series=[(H_1, H_1_ERR, LBLUE), (H_0P5, H_0P5_ERR, LAVENDER), (H_0P25, H_0P25_ERR, PINK), (H_0P125, H_0P125_ERR, GREEN),
                 (H_0, H_0_ERR, TEAL)]),
    dict(box=(487, 697, 1147, 1287), ylim=(-300, 8000), yticks=[0, 2000, 4000, 6000, 8000], title='Probe(MT)', txy=(496, 1137),
         letter=None, lxy=None, ylxy=(437, 1215), legxy=(731, 1156), labels=H_LABELS,
         series=[(HM_1, HM_1_ERR, LBLUE), (HM_0P5, HM_0P5_ERR, LAVENDER), (HM_0P25, HM_0P25_ERR, PINK), (HM_0P125, HM_0P125_ERR, GREEN),
                 (HM_0, HM_0_ERR, TEAL)]),
]

LEG_SIZE = 8.6
ROW_PX = 18.8

fig = plt.figure(figsize=(W / 100, H / 100), dpi=100)
fig.patch.set_facecolor('white')


def fx(x):
    return x / W


def fy(y):
    return 1 - y / H


def draw_panel(p):
    left, right, top, bottom = p['box']
    ax = fig.add_axes([fx(left), fy(bottom), (right - left) / W, (bottom - top) / H])
    ax.set_facecolor('white')

    rows = []
    for label, (vals, errs, col) in zip(p['labels'], p['series']):
        for t, v in zip(TIME, vals):
            rows.append((t, v, label))
    df = pd.DataFrame(rows, columns=['time', 'value', 'conc'])

    # draw from the last legend entry to the first so the first ends on top
    order = list(zip(p['labels'], p['series']))[::-1]
    for label, (vals, errs, col) in order:
        ax.errorbar(TIME, vals, yerr=errs, fmt='none', ecolor=col[1], elinewidth=0.9,
                    capsize=1.8, capthick=0.9, zorder=2)
        sns.lineplot(data=df[df['conc'] == label], x='time', y='value', color=col[0],
                     marker='o', markersize=4.2, markeredgewidth=0, linewidth=0.9,
                     errorbar=None, legend=False, ax=ax, zorder=3)

    ax.set_xlim(0, 30)
    ax.set_ylim(*p['ylim'])
    ax.set_xticks([0, 5, 10, 15, 20, 25, 30])
    ax.set_yticks(p['yticks'])
    ax.set_xlabel('')
    ax.set_ylabel('')
    sns.despine(ax=ax)
    for s in ('left', 'bottom'):
        ax.spines[s].set_linewidth(1.4)
        ax.spines[s].set_color('black')
    ax.tick_params(axis='both', direction='out', length=4, width=1.4, color='black', pad=2)
    for lab in ax.get_xticklabels() + ax.get_yticklabels():
        lab.set_fontfamily('Liberation Sans')
        lab.set_fontweight('bold')
        lab.set_fontsize(7.7)
        lab.set_color('#222222')

    # titles and labels placed in figure pixel coordinates
    fig.text(fx(p['txy'][0]), fy(p['txy'][1]), p['title'], ha='left', va='center',
             fontsize=10, fontweight='bold', color='#111111')
    fig.text(fx(p['ylxy'][0]), fy(p['ylxy'][1]), YLABEL, rotation=90, ha='center', va='center',
             multialignment='center', fontsize=8.2, fontweight='bold', color='#111111', linespacing=1.0)
    fig.text(fx((left + right) / 2), fy(bottom + 31), 'Time(mins)', ha='center', va='center',
             fontsize=8, fontweight='bold', color='#111111')
    if p['letter']:
        fig.text(fx(p['lxy'][0]), fy(p['lxy'][1]), p['letter'], ha='left', va='center',
                 fontsize=15, family='Liberation Sans', color='black')

    # legend: one small line-with-marker handle per concentration
    hx, hy = p['legxy']
    for i, (label, s) in enumerate(zip(p['labels'], p['series'])):
        yy = fy(hy + i * ROW_PX)
        fig.add_artist(Line2D([fx(hx), fx(hx + 15)], [yy, yy], transform=fig.transFigure,
                              color=s[2][0], linewidth=0.9))
        fig.add_artist(Line2D([fx(hx + 7.5)], [yy], transform=fig.transFigure, color=s[2][0],
                              marker='o', markersize=4.2, markeredgewidth=0, linestyle='none'))
        fig.text(fx(hx + 21), yy, label, ha='left', va='center_baseline', fontsize=LEG_SIZE,
                 fontweight='bold', color='#111111')
    return ax


for p in PANELS:
    draw_panel(p)

fig.savefig('out.png', dpi=100, facecolor='white')
